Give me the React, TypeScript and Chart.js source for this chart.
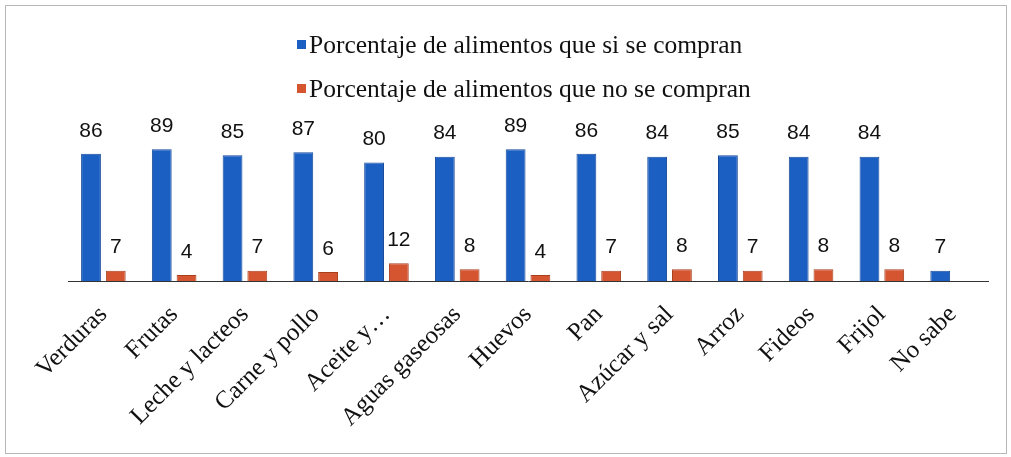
import React, { useEffect, useRef } from "react";
import { Chart, registerables } from "chart.js";

Chart.register(...registerables);

const categories = [
  "Verduras", "Frutas", "Leche y lacteos", "Carne y pollo", "Aceite y…",
  "Aguas gaseosas", "Huevos", "Pan", "Azúcar y sal", "Arroz", "Fideos", "Frijol", "No sabe",
];
const siCompran = [86, 89, 85, 87, 80, 84, 89, 86, 84, 85, 84, 84, 7];
const noCompran = [7, 4, 7, 6, 12, 8, 4, 7, 8, 7, 8, 8, null];
const seriesNames = [
  "Porcentaje de alimentos que si se compran",
  "Porcentaje de alimentos que no se compran",
];
const seriesColors = ["#1c5fc2", "#d4552f"];

const W = 1011;
const H = 457;

const framePlugin = {
  id: "frame",
  beforeDraw(chart: any) {
    const ctx = chart.ctx;
    ctx.save();
    ctx.fillStyle = "#ffffff";
    ctx.fillRect(0, 0, W, H);
    ctx.strokeStyle = "#b8b8b8";
    ctx.lineWidth = 1;
    ctx.strokeRect(5.5, 5.5, W - 10, H - 9);
    ctx.restore();
  },
};

const legendPlugin = {
  id: "customLegend",
  afterDraw(chart: any) {
    const ctx = chart.ctx;
    ctx.save();
    ctx.font = "25.5px 'Liberation Serif'";
    ctx.textBaseline = "middle";
    ctx.textAlign = "left";
    const ys = [45, 89];
    seriesNames.forEach((name, i) => {
      const y = ys[i];
      ctx.fillStyle = seriesColors[i];
      ctx.fillRect(297, y - 5, 9, 9);
      ctx.fillStyle = "#111";
      ctx.fillText(name, 309, y + 1);
    });
    ctx.restore();
  },
};

const dataLabelPlugin = {
  id: "dataLabels",
  afterDatasetsDraw(chart: any) {
    const ctx = chart.ctx;
    ctx.save();
    ctx.font = "21px 'Liberation Sans'";
    ctx.fillStyle = "#111";
    ctx.textAlign = "center";
    ctx.textBaseline = "middle";
    chart.data.datasets.forEach((ds: any, di: number) => {
      const meta = chart.getDatasetMeta(di);
      meta.data.forEach((el: any, i: number) => {
        const v = ds.data[i];
        if (v === null || v === undefined) return;
        ctx.fillText(String(v), el.x, el.y - 23);
      });
    });
    ctx.restore();
  },
};

export default function App() {
  const ref = useRef<HTMLCanvasElement | null>(null);
  useEffect(() => {
    if (!ref.current) return;
    const chart = new Chart(ref.current, {
      type: "bar",
      data: {
        labels: categories,
        datasets: [
          {
            label: seriesNames[0],
            data: siCompran,
            backgroundColor: seriesColors[0],
            borderColor: "#164a9a",
            borderWidth: 1,
          },
          {
            label: seriesNames[1],
            data: noCompran as any,
            backgroundColor: seriesColors[1],
            borderColor: "#a8401f",
            borderWidth: 1,
          },
        ],
      },
      options: {
        responsive: false,
        animation: false,
        devicePixelRatio: 1,
        layout: { padding: { left: 68, right: 23, top: 133, bottom: 0 } },
        datasets: { bar: { categoryPercentage: 0.7, barPercentage: 0.8 } },
        plugins: {
          legend: { display: false },
          tooltip: { enabled: false },
          title: { display: false },
        },
        scales: {
          x: {
            grid: { display: false, drawTicks: false },
            border: { display: true, color: "#333", dash: [2, 2], width: 1 },
            ticks: {
              color: "#111",
              font: { family: "'Liberation Serif'", size: 25 },
              minRotation: 45,
              maxRotation: 45,
              autoSkip: false,
              padding: 19,
            },
            afterFit: (scale: any) => {
              scale.height = H - 281;
            },
          },
          y: {
            display: false,
            min: 0,
            max: 100,
          },
        },
      },
      plugins: [framePlugin, legendPlugin, dataLabelPlugin],
    });
    return () => chart.destroy();
  }, []);
  return (
    <div style={{ position: "fixed", left: 0, top: 0, width: W, height: H, background: "#fff" }}>
      <canvas ref={ref} width={W} height={H} style={{ display: "block" }} />
    </div>
  );
}
